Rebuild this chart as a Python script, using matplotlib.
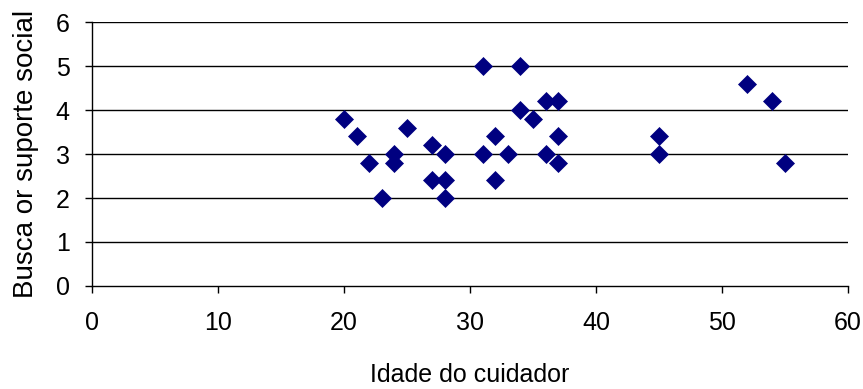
import matplotlib.pyplot as plt

# Idade do cuidador vs. Busca or suporte social
idade = [20, 21, 22, 23, 24, 24, 25, 27, 27, 28, 28, 28,
         31, 31, 32, 32, 33, 34, 34, 35, 36, 36, 37, 37, 37,
         45, 45, 52, 54, 55]
suporte = [3.8, 3.4, 2.8, 2.0, 3.0, 2.8, 3.6, 3.2, 2.4, 3.0, 2.4, 2.0,
           5.0, 3.0, 3.4, 2.4, 3.0, 5.0, 4.0, 3.8, 4.2, 3.0, 4.2, 3.4, 2.8,
           3.4, 3.0, 4.6, 4.2, 2.8]
x_ticks = [0, 10, 20, 30, 40, 50, 60]
y_ticks = [0, 1, 2, 3, 4, 5, 6]

plt.rcParams['font.family'] = ['Liberation Sans', 'DejaVu Sans']

fig = plt.figure(figsize=(8.63, 3.89), dpi=100)
ax = fig.add_axes([0.1066, 0.2648, 0.876, 0.6786])

ax.set_xlim(0, 60)
ax.set_ylim(0, 6)
ax.set_xticks(x_ticks)
ax.set_yticks(y_ticks)

# horizontal gridlines like the Excel chart
for y in y_ticks[1:]:
    ax.axhline(y, color='black', linewidth=1, zorder=1)

ax.plot(idade, suporte, linestyle='none', marker='D', markersize=9.6,
        markerfacecolor='#000080', markeredgecolor='#000080',
        markeredgewidth=0.5, zorder=3, clip_on=False)

ax.spines['top'].set_visible(False)
ax.spines['right'].set_visible(False)
for s in ['left', 'bottom']:
    ax.spines[s].set_color('black')
    ax.spines[s].set_linewidth(1)

ax.tick_params(axis='both', direction='out', length=5, width=1,
               labelsize=18, colors='black')
ax.tick_params(axis='x', pad=13)
ax.tick_params(axis='y', pad=11)

ax.set_xlabel('Idade do cuidador', fontsize=18, labelpad=20)
ax.set_ylabel('Busca or suporte social', fontsize=20, labelpad=12)

fig.savefig('out.png', dpi=100)
plt.close(fig)
